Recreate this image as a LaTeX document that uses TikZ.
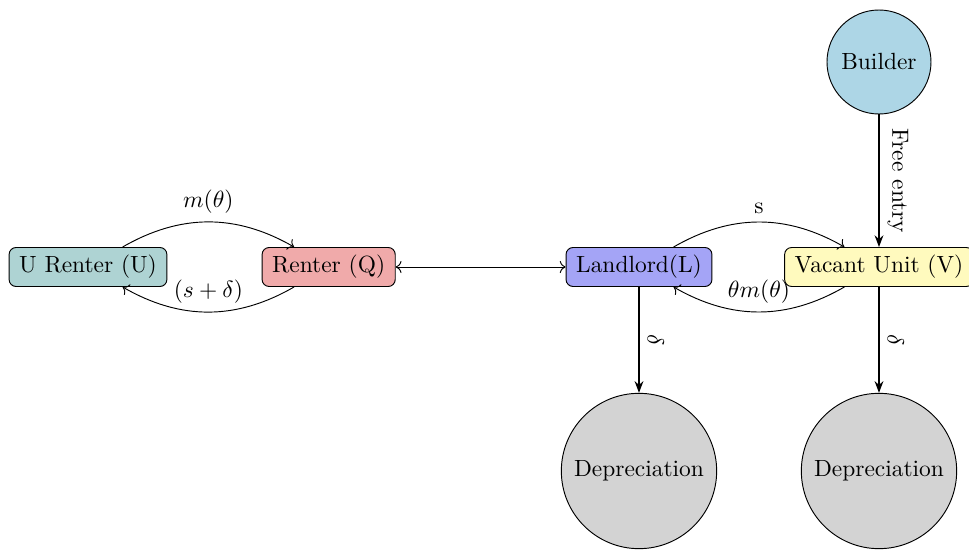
\documentclass[tikz,border=0pt]{standalone}
\usetikzlibrary{arrows.meta}

\definecolor{urentcol}{RGB}{174,211,211}
\definecolor{rentcol}{RGB}{240,170,170}
\definecolor{lordcol}{RGB}{164,164,246}
\definecolor{vacantcol}{RGB}{255,250,190}
\definecolor{buildcol}{RGB}{173,214,230}
\definecolor{deprcol}{RGB}{211,211,211}

\tikzset{
  agent/.style={draw, rounded corners=3pt, minimum height=.585cm, inner xsep=4.3pt, inner ysep=3pt},
  sink/.style={draw, circle, fill=deprcol, minimum size=2.33cm, inner sep=0pt},
  flow/.style={->},
  drop/.style={-{Stealth[length=5pt]}, semithick}
}

\begin{document}
\begin{tikzpicture}
      \useasboundingbox (0,0) rectangle (14.535,8.25);
      \node [agent, fill=urentcol] (U) at (1.32,4.245) {U Renter (U)};
      \node [agent, fill=rentcol] (Q) at (4.93,4.245) {Renter (Q)};
      \node [agent, fill=lordcol] (L) at (9.585,4.245) {Landlord(L)};
      \node [agent, fill=vacantcol] (V) at (13.185,4.245) {Vacant Unit (V)};
      \node [draw, circle, fill=buildcol, minimum size=1.56cm, inner sep=0pt] (B) at (13.185,7.32) {Builder};
      \node [sink] (DL) at (9.585,1.185) {Depreciation};
      \node [sink] (DV) at (13.185,1.185) {Depreciation};

      \draw [flow] (U) to [bend left=30] node [above] {$m(\theta)$} (Q);
      \draw [flow] (Q) to [bend left=30] node [above] {$(s+\delta)$} (U);
      \draw [<->] (Q) -- (L);
      \draw [flow] (L) to [bend left=30] node [above] {s} (V);
      \draw [flow] (V) to [bend left=30] node [above] {$\theta m(\theta)$} (L);
      \draw [drop] (B) -- node [midway, sloped, above] {Free entry} (V);
      \draw [drop] (L) -- node [midway, sloped, above] {$\delta$} (DL);
      \draw [drop] (V) -- node [midway, sloped, above] {$\delta$} (DV);
    \end{tikzpicture}
\end{document}
